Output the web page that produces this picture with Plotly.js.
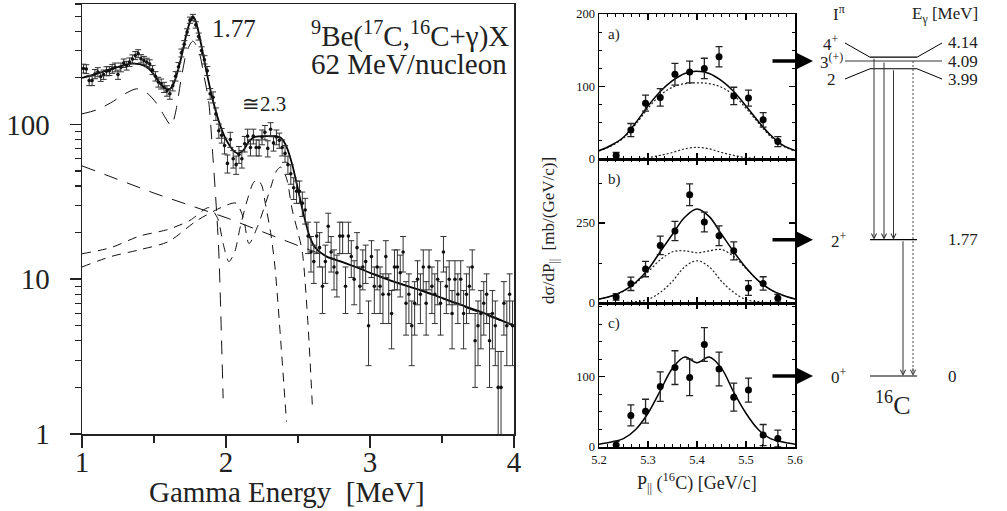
<!DOCTYPE html>
<html><head><meta charset="utf-8">
<script src="https://cdn.plot.ly/plotly-3.0.1.min.js"></script>
<style>html,body{margin:0;padding:0;background:#fff}#chart{width:1007px;height:511px}</style>
</head><body><div id="chart"></div>
<script>
// ---------- Left: gamma-ray spectrum ----------
const binStart = 1.01;   // first bin centre [MeV]
const binWidth = 0.02;   // bin width [MeV]
const counts = [230,228,192,192,212,218,204,210,221,222,
 229,234,210,234,249,240,253,265,279,287,
 266,259,252,246,225,205,188,183,174,165,
 158,178,205,236,290,330,395,472,492,440,
 370,300,262,222,158,150,117,91,85,73,
 56,80,60,55,64,60,75,84,71,84,
 71,71,83,89,70,93,76,83,79,71,
 65,55,48,39,37,37,31,28,19,15,
 13,19,16,9,13,22,15,12,11,19,
 19,9,19,14,10,16,9,12,13,5,
 14,9,12,9,8,14,8,6,12,12,
 11,15,7,8,5,7,10,8,12,7,
 12,9,8,10,7,15,9,10,6,10,
 8,10,6,8,9,12,4,5,6,7,
 8,4,6,5,2,2,7,5,8,5];

const fitE = [1.0,1.1,1.2,1.3,1.35,1.4,1.45,1.5,1.55,1.6,1.63,1.67,1.7,1.73,1.76,1.78,1.8,1.83,1.86,1.9,1.95,2.0,2.05,2.08,2.12,2.16,2.2,2.3,2.38,2.42,2.46,2.5,2.54,2.58,2.62,2.7,2.8,2.9,3.0,3.2,3.4,3.6,3.8,4.0];
const fitV = [200,212,228,243,247,245,235,210,180,168,178,230,300,400,480,485,430,320,230,155,105,80,68,65,68,78,83,84,82,72,55,38,26,19,16,14,13,12,11,9.4,8.2,7,6,5];

const comp177E = [1.0,1.1,1.2,1.3,1.38,1.45,1.52,1.58,1.62,1.65,1.69,1.73,1.77,1.81,1.85,1.88,1.91,1.93,1.95,1.98];
const comp177V = [117,124,138,158,170,160,136,110,98,120,200,300,345,300,200,140,60,32,15,1.7];

const compAE = [1.0,1.2,1.4,1.6,1.75,1.88,1.94,1.98,2.02,2.06,2.1,2.15,2.19,2.22,2.25,2.27,2.31,2.34,2.38,2.42];
const compAV = [14.6,16,19,21,24,29,25,17,13,15,22,33,42,44,40,32,20,12,4,1.2];

const compBE = [1.0,1.2,1.4,1.6,1.8,2.0,2.07,2.12,2.16,2.22,2.28,2.31,2.35,2.38,2.42,2.46,2.5,2.53,2.57,2.6];
const compBV = [12,14,15.5,17.5,24,30,31,25,17,22,32,39,50,53,45,28,20,15,5,1.5];

const bgE = [1.0,1.5,2.0,2.5,3.0,3.5,4.0];
const bgV = [54,36,25,16.5,11.1,7.5,5.0];

// ---------- Right: momentum distributions ----------
const pPar = [5.235,5.265,5.295,5.325,5.355,5.385,5.415,5.445,5.475,5.505,5.535,5.565];
const sigA = [5,40,77,85,117,120,125,141,87,84,54,24];
const errA = [4,9,11,12,15,15,14,14,12,11,10,7];
const sigB = [19,60,106,180,225,338,253,210,163,47,61,15];
const errB = [10,21,24,29,30,34,31,31,28,23,21,12];
const sigC = [3,45,51,86,113,99,146,111,71,81,17,12];
const errC = [5,15,17,21,24,26,24,24,20,17,15,12];

const curveP = [5.2,5.225,5.25,5.275,5.3,5.325,5.35,5.375,5.4,5.425,5.45,5.475,5.5,5.525,5.55,5.575,5.6];
const fitA   = [11.5,19,30,50,73,93,108,118,121,118,108,93,73,52,33,19,11.5];
const fitA1  = [11,18,29,48,70,88,99,104,105,104,99,88,70,50,31,18,11];
const fitA2  = [0,0,0,0.5,2,5,9,14,16,14,9,5,2,0.5,0,0,0];
const fitB   = [12.5,22,38,65,105,160,215,268,294,270,215,160,110,70,42,24,12.5];
const fitB1  = [12,21,37,62,97,135,160,163,157,163,167,145,108,70,42,24,12];
const fitB2  = [0,0,1,4,11,33,68,113,132,113,68,33,11,4,1,0,0];
const fitC   = [4,7,12,25,48,80,112,128,120,128,112,78,48,25,12,7,4];

// ---------- Level scheme of 16C ----------
const levelE     = [4.14, 4.09, 3.99, 1.77, 0];
const levelSpin  = ['4<sup>+</sup>','3<sup>(+)</sup>','2','2<sup>+</sup>','0<sup>+</sup>'];
const levelText  = ['4.14','4.09','3.99','1.77','0'];
const transFrom  = [4.14, 4.09, 3.99, 1.77];
const transTo    = [1.77, 1.77, 1.77, 0];
const dottedFrom = 4.09, dottedTo = 0;
const panelLevel = [4.09, 1.77, 0];   // a), b), c) -> populated level

const serif = 'Liberation Serif, Times New Roman, serif';
const W = 1007, H = 511;
const px = v => v / W, py = v => 1 - v / H;

const traces = [];
const dashLong = '14px,10px', dashShort = '9px,7px';
traces.push({x: bgE, y: bgV, mode:'lines', line:{color:'#111', width:1, dash:dashLong}, xaxis:'x', yaxis:'y', hoverinfo:'skip'});
traces.push({x: comp177E, y: comp177V, mode:'lines', line:{color:'#111', width:1, dash:dashLong, shape:'spline', smoothing:0.8}, xaxis:'x', yaxis:'y'});
traces.push({x: compAE, y: compAV, mode:'lines', line:{color:'#111', width:1, dash:dashShort, shape:'spline', smoothing:0.8}, xaxis:'x', yaxis:'y'});
traces.push({x: compBE, y: compBV, mode:'lines', line:{color:'#111', width:1, dash:dashShort, shape:'spline', smoothing:0.8}, xaxis:'x', yaxis:'y'});
traces.push({x: fitE, y: fitV, mode:'lines', line:{color:'#000', width:1.8, shape:'spline', smoothing:0.8}, xaxis:'x', yaxis:'y'});
traces.push({x0: binStart, dx: binWidth, y: counts, mode:'markers', marker:{size:3.6, color:'#111'},
  error_y:{type:'sqrt', visible:true, color:'#333', thickness:1, width:3}, xaxis:'x', yaxis:'y', cliponaxis:false});

const panels = [
  {sig:sigA, err:errA, fit:fitA, comps:[fitA1, fitA2], ax:'2'},
  {sig:sigB, err:errB, fit:fitB, comps:[fitB1, fitB2], ax:'3'},
  {sig:sigC, err:errC, fit:fitC, comps:[], ax:'4'}
];
panels.forEach(p => {
  p.comps.forEach(c => traces.push({x: curveP, y: c, mode:'lines', line:{color:'#222', width:1.2, dash:'2px,2px', shape:'spline'}, xaxis:'x'+p.ax, yaxis:'y'+p.ax}));
  traces.push({x: curveP, y: p.fit, mode:'lines', line:{color:'#000', width:1.5, shape:'spline'}, xaxis:'x'+p.ax, yaxis:'y'+p.ax});
  traces.push({x: pPar, y: p.sig, mode:'markers', marker:{size:7, color:'#000'},
    error_y:{type:'data', array:p.err, visible:true, color:'#222', thickness:1.3, width:3.5}, xaxis:'x'+p.ax, yaxis:'y'+p.ax, cliponaxis:false});
});
traces.push({x:[], y:[], xaxis:'x5', yaxis:'y5'});

const logMinor = [];
[1,10,100].forEach(d => [2,3,4,5,6,7,8,9].forEach(m => logMinor.push(m*d)));

const rightX = (labels) => ({
  domain:[px(599), px(795)], range:[5.2,5.6], dtick:0.1, tick0:5.2,
  ticks:'inside', ticklen:6, tickwidth:1.2, tickcolor:'#000',
  showline:true, linewidth:1.5, linecolor:'#000', mirror:'ticks',
  showgrid:false, zeroline:false, showticklabels:labels,
  tickfont:{family:serif, size:12.5, color:'#111'}, tickformat:'.1f',
  minor:{dtick:0.1/6, tick0:5.2, ticks:'inside', ticklen:3, tickwidth:1, tickcolor:'#000'}
});
const rightY = (top, bottom, range, tickvals, minorDt) => ({
  domain:[py(bottom), py(top)], range:range, tickvals:tickvals,
  ticks:'inside', ticklen:6, tickwidth:1.2, tickcolor:'#000',
  showline:true, linewidth:1.5, linecolor:'#000', mirror:'ticks',
  showgrid:false, zeroline:false,
  tickfont:{family:serif, size:12.5, color:'#111'},
  minor:{dtick:minorDt, tick0:0, ticks:'inside', ticklen:3, tickwidth:1, tickcolor:'#000'}
});

const layout = {
  width:W, height:H, margin:{l:0,r:0,t:0,b:0},
  paper_bgcolor:'#fff', plot_bgcolor:'rgba(0,0,0,0)', showlegend:false,
  font:{family:serif, color:'#000'},
  xaxis:{domain:[px(82), px(514)], range:[1,4], dtick:1, anchor:'y',
    ticks:'outside', ticklen:12, tickwidth:1.5, tickcolor:'#222',
    showline:true, linewidth:1.5, linecolor:'#222', mirror:true, showgrid:false, zeroline:false,
    tickfont:{family:serif, size:29, color:'#222'}, ticklabelstandoff:-10,
    minor:{tickmode:'array', tickvals:[1.5,2.5,3.5], ticks:'outside', ticklen:7, tickwidth:1.5, tickcolor:'#222'}},
  yaxis:{domain:[py(434), py(4)], type:'log', range:[0, Math.log10(600)], anchor:'x',
    tickvals:[1,10,100], ticktext:['1','10','100'],
    ticks:'outside', ticklen:11, tickwidth:1.5, tickcolor:'#222',
    showline:true, linewidth:1.5, linecolor:'#222', mirror:true, showgrid:false, zeroline:false,
    tickfont:{family:serif, size:29, color:'#222'}, ticklabelstandoff:14,
    minor:{tickmode:'array', tickvals:logMinor, ticks:'outside', ticklen:6, tickwidth:1.2, tickcolor:'#222'}},
  xaxis2: Object.assign(rightX(false), {anchor:'y2'}),
  xaxis3: Object.assign(rightX(false), {anchor:'y3'}),
  xaxis4: Object.assign(rightX(true), {anchor:'y4'}),
  yaxis2: Object.assign(rightY(14, 159, [0,200], [0,100,200], 25), {anchor:'x2'}),
  yaxis3: Object.assign(rightY(159, 303, [0,450], [0,250], 125), {anchor:'x3'}),
  yaxis4: Object.assign(rightY(303, 447, [0,205], [0,100], 25), {anchor:'x4'}),
  xaxis5:{domain:[0,1], range:[0,W], visible:false, anchor:'y5', fixedrange:true},
  yaxis5:{domain:[0,1], range:[(376-H)/77, 376/77], visible:false, anchor:'x5', fixedrange:true},
  shapes:[], annotations:[]
};

// left-panel annotations
const A = layout.annotations, S = layout.shapes;
A.push({xref:'x', yref:'y', x:1.89, y:Math.log10(416), text:'1.77', showarrow:false, xanchor:'left', yanchor:'middle', font:{family:serif, size:25, color:'#222'}});
A.push({xref:'x', yref:'y', x:2.1, y:Math.log10(135), text:'≅2.3', showarrow:false, xanchor:'left', yanchor:'middle', font:{family:serif, size:21, color:'#222'}});
A.push({xref:'paper', yref:'paper', x:px(511), y:py(34), text:'<sup>9</sup>Be(<sup>17</sup>C,<sup>16</sup>C+γ)X', showarrow:false, xanchor:'right', yanchor:'middle', font:{family:serif, size:29, color:'#222'}});
A.push({xref:'paper', yref:'paper', x:px(509), y:py(64), text:'62 MeV/nucleon', showarrow:false, xanchor:'right', yanchor:'middle', font:{family:serif, size:29, color:'#222'}});
A.push({xref:'paper', yref:'paper', x:px(287), y:py(492), text:'Gamma Energy&nbsp;&nbsp;[MeV]', showarrow:false, xanchor:'center', yanchor:'middle', font:{family:serif, size:29, color:'#222'}});

// right-panel annotations
['a)','b)','c)'].forEach((t,i) => A.push({xref:'x'+(i+2)+' domain', yref:'y'+(i+2)+' domain', x:0.035, y:0.86, text:t, showarrow:false, xanchor:'left', yanchor:'middle', font:{family:serif, size:15, color:'#222'}}));
A.push({xref:'paper', yref:'paper', x:px(550), y:py(231), text:'dσ/dP<sub>||</sub>&nbsp;&nbsp;[mb/(GeV/c)]', textangle:-90, showarrow:false, xanchor:'center', yanchor:'middle', font:{family:serif, size:17, color:'#222'}});
A.push({xref:'paper', yref:'paper', x:px(697), y:py(482), text:'P<sub>||</sub> (<sup>16</sup>C) [GeV/c]', showarrow:false, xanchor:'center', yanchor:'middle', font:{family:serif, size:18, color:'#222'}});

// level scheme
const lx0 = 870, lx1 = 917, lblL = 845, lblR = 942;
const tripletLabelE = [4.325, 4.09, 3.857];
levelE.forEach((e,i) => {
  const isTriplet = i < 3;
  if (i === 1) {
    S.push({type:'line', xref:'x5', yref:'y5', x0:lblL, x1:lblR, y0:e, y1:e, line:{color:'#777', width:1.5}});
  } else {
    S.push({type:'line', xref:'x5', yref:'y5', x0:lx0, x1:lx1, y0:e, y1:e, line:{color:'#000', width:1.2}});
  }
  let ly = e;
  if (isTriplet) {
    ly = tripletLabelE[i];
    if (i !== 1) {
      S.push({type:'line', xref:'x5', yref:'y5', x0:lblL, x1:lx0, y0:ly, y1:e, line:{color:'#000', width:1}});
      S.push({type:'line', xref:'x5', yref:'y5', x0:lx1, x1:lblR, y0:e, y1:ly, line:{color:'#000', width:1}});
    }
  }
  A.push({xref:'x5', yref:'y5', x: isTriplet ? 831 : 839, y:ly, text:levelSpin[i], showarrow:false, xanchor:'center', yanchor:'middle', font:{family:serif, size:17, color:'#222'}});
  A.push({xref:'x5', yref:'y5', x:946, y:ly, text:levelText[i], showarrow:false, xanchor:'left', yanchor:'middle', font:{family:serif, size:17, color:'#222'}});
});
const transX = [874, 884, 893.5, 903];
transFrom.forEach((f,i) => {
  A.push({xref:'x5', yref:'y5', axref:'x5', ayref:'y5', x:transX[i], y:transTo[i], ax:transX[i], ay:f, text:'', showarrow:true,
    arrowhead:5, arrowsize:1, arrowwidth:1, arrowcolor:'#333', standoff:0, startstandoff:0});
});
S.push({type:'line', xref:'x5', yref:'y5', x0:913, x1:913, y0:dottedFrom, y1:dottedTo+0.03, line:{color:'#444', width:1, dash:'2px,2px'}});
A.push({xref:'x5', yref:'y5', axref:'x5', ayref:'y5', x:913, y:dottedTo, ax:913, ay:dottedTo+0.12, text:'', showarrow:true,
  arrowhead:5, arrowsize:1, arrowwidth:1, arrowcolor:'#444', standoff:0});
panelLevel.forEach(e => {
  A.push({xref:'x5', yref:'y5', axref:'x5', ayref:'y5', x:813, y:e, ax:771, ay:e, text:'', showarrow:true,
    arrowhead:2, arrowsize:1, arrowwidth:3.5, arrowcolor:'#000', standoff:0});
});
A.push({xref:'x5', yref:'y5', x:839, y:(376-13)/77, text:'I<sup>π</sup>', showarrow:false, xanchor:'center', yanchor:'middle', font:{family:serif, size:17, color:'#222'}});
A.push({xref:'x5', yref:'y5', x:980, y:(376-15)/77, text:'E<sub>γ</sub> [MeV]', showarrow:false, xanchor:'right', yanchor:'middle', font:{family:serif, size:17, color:'#222'}});
A.push({xref:'x5', yref:'y5', x:893, y:(376-403)/77, text:'<sup>16</sup>C', showarrow:false, xanchor:'center', yanchor:'middle', font:{family:serif, size:26, color:'#222'}});

Plotly.newPlot('chart', traces, layout, {staticPlot:true});
</script>
</body></html>
